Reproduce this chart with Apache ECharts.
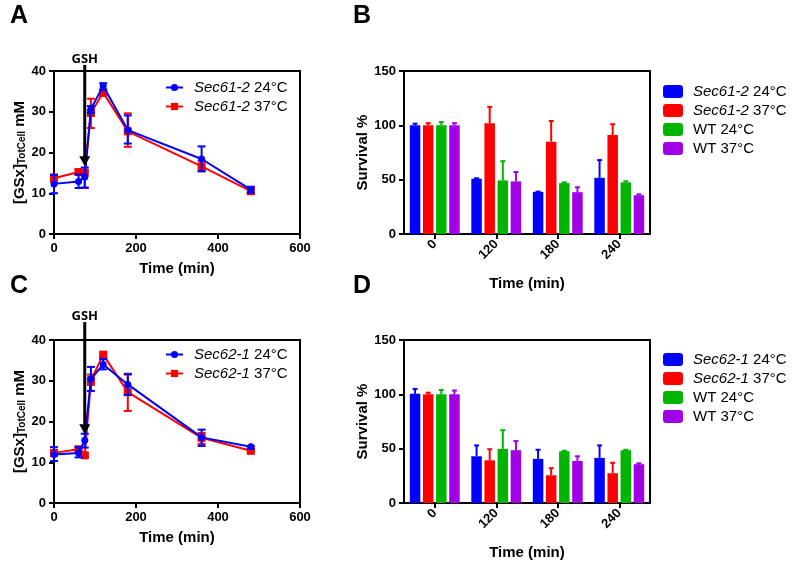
<!DOCTYPE html>
<html><head><meta charset="utf-8">
<script src="https://cdn.jsdelivr.net/npm/echarts@6/dist/echarts.min.js"></script>
<style>html,body{margin:0;padding:0;background:#fff}#c{width:800px;height:568px}</style>
</head><body><div id="c"></div>
<script>
// ---------- DATA ----------
const lineTimes = [0, 60, 75, 90, 120, 180, 360, 480];
// Panel A (Sec61-2)
const aName24 = 'Sec61-2 24°C', aName37 = 'Sec61-2 37°C';
const a24 = [12.3, 12.9, 14.0, 30.7, 36.3, 25.5, 18.4, 10.9];
const a24Low = [10.0, 11.3, 11.4, 29.7, 35.3, 22.2, 15.4, 10.1];
const a24High = [14.5, 14.6, 16.3, 31.4, 37.0, 29.1, 21.5, 11.6];
const a37 = [13.7, 15.2, 15.0, 29.7, 34.7, 25.2, 16.6, 10.5];
const a37Low = [12.8, 14.6, 11.3, 26.0, 33.9, 21.4, 15.4, 10.0];
const a37High = [14.6, 15.8, 15.5, 33.2, 35.5, 29.6, 18.0, 11.2];
// Panel C (Sec62-1)
const cName24 = 'Sec62-1 24°C', cName37 = 'Sec62-1 37°C';
const c24 = [11.9, 12.3, 15.4, 30.4, 34.0, 29.1, 16.1, 13.8];
const c24Low = [10.3, 11.2, 13.6, 27.5, 32.8, 26.5, 14.0, 13.3];
const c24High = [13.7, 13.7, 17.0, 33.4, 35.3, 31.7, 18.0, 14.0];
const c37 = [12.3, 13.2, 11.7, 30.1, 36.4, 27.2, 16.0, 12.8];
const c37Low = [11.5, 12.8, 11.3, 29.0, 35.8, 22.6, 14.5, 12.5];
const c37High = [13.0, 13.6, 12.0, 31.5, 37.0, 31.5, 17.2, 13.1];
// GSH annotation: time, arrow tip value, arrow top value
const gshTime = 75;
const gshA = [16.6, 41.5];
const gshC = [16.9, 44.4];
// Bar panels
const barCats = ['0', '120', '180', '240'];
const bNames = ['Sec61-2 24°C', 'Sec61-2 37°C', 'WT 24°C', 'WT 37°C'];
const bBlue = [100, 50.8, 38.8, 51.7], bBlueErr = [101.5, 51.3, 39.0, 68];
const bRed = [100, 102, 85, 91], bRedErr = [102, 117, 104, 101];
const bGreen = [100, 49.3, 46.8, 47.5], bGreenErr = [103, 67, 47.5, 48.5];
const bPurple = [100, 48.4, 38.5, 35.7], bPurpleErr = [102, 57, 43, 36.5];
const dNames = ['Sec62-1 24°C', 'Sec62-1 37°C', 'WT 24°C', 'WT 37°C'];
const dBlue = [100.5, 43, 40.6, 41.5], dBlueErr = [105, 53, 49, 53];
const dRed = [100, 39.3, 25.5, 27.4], dRedErr = [101.5, 49.5, 32, 37];
const dGreen = [100, 49.8, 47.6, 48.6], dGreenErr = [104, 67, 48, 49];
const dPurple = [100, 48.6, 38.7, 35.7], dPurpleErr = [103.5, 57, 43, 36.5];

// ---------- STYLE ----------
const FONT = '"Liberation Sans", Arial, sans-serif';
const BLUE = '#0000ff', RED = '#ff0000', GREEN = '#00b400', PURPLE = '#a000e6';
const BAR_W = 10.5, BAR_GAP = 0.25;

function lineErr(color) {
  return function (params, api) {
    const x = api.value(0);
    const p1 = api.coord([x, api.value(1)]), p2 = api.coord([x, api.value(2)]);
    const hw = 4, st = { stroke: color, lineWidth: 2 };
    return { type: 'group', children: [
      { type: 'line', shape: { x1: p1[0], y1: p1[1], x2: p2[0], y2: p2[1] }, style: st },
      { type: 'line', shape: { x1: p1[0] - hw, y1: p1[1], x2: p1[0] + hw, y2: p1[1] }, style: st },
      { type: 'line', shape: { x1: p2[0] - hw, y1: p2[1], x2: p2[0] + hw, y2: p2[1] }, style: st }
    ]};
  };
}
function barErr(color, idx) {
  return function (params, api) {
    const c = api.value(0);
    const base = api.coord([c, api.value(1)]), top = api.coord([c, api.value(2)]);
    const g = BAR_W * BAR_GAP, total = 4 * BAR_W + 3 * g;
    const cx = base[0] - total / 2 + BAR_W / 2 + idx * (BAR_W + g);
    const st = { stroke: color, lineWidth: 2 };
    return { type: 'group', children: [
      { type: 'line', shape: { x1: cx, y1: base[1], x2: cx, y2: top[1] }, style: st },
      { type: 'line', shape: { x1: cx - 2.5, y1: top[1], x2: cx + 2.5, y2: top[1] }, style: st }
    ]};
  };
}
function arrowItem(params, api) {
  const tip = api.coord([api.value(0), api.value(1)]);
  const top = api.coord([api.value(0), api.value(2)]);
  return { type: 'group', children: [
    { type: 'line', shape: { x1: top[0], y1: top[1], x2: tip[0], y2: tip[1] - 8 }, style: { stroke: '#000', lineWidth: 3 } },
    { type: 'polygon', shape: { points: [[tip[0] - 5.5, tip[1] - 10], [tip[0] + 5.5, tip[1] - 10], [tip[0], tip[1]]] }, style: { fill: '#000' } },
    { type: 'text', style: { text: 'GSH', x: top[0], y: top[1] + 1, align: 'center', verticalAlign: 'bottom', font: 'bold 13px "Open Sans", sans-serif', fill: '#000' } }
  ]};
}

const axisLine = { show: true, lineStyle: { color: '#000', width: 2 } };
const axisTick = { show: true, length: 5, lineStyle: { color: '#000', width: 2 } };
const axisLabel = { color: '#000', fontWeight: 'bold', fontSize: 13, fontFamily: FONT, margin: 8 };
const nameStyle = { color: '#000', fontWeight: 'bold', fontSize: 15, fontFamily: FONT };
const gsxName = {
  color: '#000', fontWeight: 'bold', fontSize: 15, fontFamily: FONT,
  rich: {
    m: { fontWeight: 'bold', fontSize: 15, fontFamily: FONT, color: '#000' },
    s: { fontWeight: 'bold', fontSize: 10, fontFamily: FONT, color: '#000', lineHeight: 6, verticalAlign: 'bottom' }
  }
};

const grids = [
  { left: 54, top: 71, width: 246, height: 163 },
  { left: 404, top: 71, width: 246, height: 163 },
  { left: 54, top: 340, width: 246, height: 163 },
  { left: 404, top: 340, width: 246, height: 163 }
].map(g => Object.assign({ show: true, borderColor: '#000', borderWidth: 2, backgroundColor: 'transparent', containLabel: false, outerBoundsMode: 'none' }, g));

function valX(gi) {
  return { gridIndex: gi, type: 'value', min: 0, max: 600, interval: 200, axisLine, axisTick, axisLabel,
    splitLine: { show: false }, name: 'Time (min)', nameLocation: 'middle', nameGap: 27, nameTextStyle: nameStyle };
}
function valY(gi) {
  return { gridIndex: gi, type: 'value', min: 0, max: 40, interval: 10, axisLine, axisTick, axisLabel,
    splitLine: { show: false }, name: '{m|[GSx]}{s|TotCell}{m| mM}', nameLocation: 'middle', nameGap: 24, nameTextStyle: gsxName };
}
function catX(gi) {
  return { gridIndex: gi, type: 'category', data: barCats, axisLine, axisTick: Object.assign({ alignWithLabel: true }, axisTick),
    axisLabel: Object.assign({}, axisLabel, { rotate: 45, margin: 8 }),
    name: 'Time (min)', nameLocation: 'middle', nameGap: 42, nameTextStyle: nameStyle };
}
function barY(gi) {
  return { gridIndex: gi, type: 'value', min: 0, max: 150, interval: 50, axisLine, axisTick, axisLabel,
    splitLine: { show: false }, name: 'Survival %', nameLocation: 'middle', nameGap: 32, nameTextStyle: nameStyle };
}

function fmt(name) {
  const m = name.match(/^(Sec6\S+)(.*)$/);
  return m ? '{sp|}{i|' + m[1] + '}' + m[2] : '{sp|}' + name;
}
function legend(names, left, top, isLine) {
  return {
    data: names, left, top, orient: 'vertical', itemGap: 4, padding: 0,
    itemWidth: isLine ? 17 : 20, itemHeight: isLine ? 9 : 13,
    icon: isLine ? undefined : 'roundRect',
    formatter: fmt, selectedMode: false,
    textStyle: { color: '#000', fontSize: 15, fontFamily: FONT,
      rich: { i: { fontStyle: 'italic', fontSize: 15, fontFamily: FONT, color: '#000' }, sp: { width: isLine ? 6 : 5 } } }
  };
}

function lineSeries(name, data, color, symbol, size, gi) {
  return { type: 'line', name, xAxisIndex: gi, yAxisIndex: gi, data: lineTimes.map((t, i) => [t, data[i]]),
    symbol, symbolSize: size, color, lineStyle: { color, width: 2 }, itemStyle: { color }, z: symbol === 'circle' ? 4 : 3 };
}
function errSeries(lo, hi, color, gi, z) {
  return { type: 'custom', xAxisIndex: gi, yAxisIndex: gi, renderItem: lineErr(color), clip: false,
    data: lineTimes.map((t, i) => [t, lo[i], hi[i]]), encode: { x: 0, y: [1, 2] }, z, silent: true };
}
function barSeries(name, data, color, gi) {
  return { type: 'bar', name, xAxisIndex: gi, yAxisIndex: gi, data, barWidth: BAR_W, barGap: (BAR_GAP * 100) + '%',
    itemStyle: { color }, color, z: 2 };
}
function barErrSeries(vals, errs, color, idx, gi) {
  return { type: 'custom', xAxisIndex: gi, yAxisIndex: gi, renderItem: barErr(color, idx), clip: false,
    data: vals.map((v, i) => [i, v, errs[i]]), encode: { x: 0, y: [1, 2] }, z: 3, silent: true };
}
function arrowSeries(vals, gi) {
  return { type: 'custom', xAxisIndex: gi, yAxisIndex: gi, renderItem: arrowItem, clip: false,
    data: [[gshTime, vals[0], vals[1]]], encode: { x: 0, y: [1, 2] }, z: 10, silent: true };
}

const letter = (t, left, top) => ({ text: t, left, top, padding: 0, textStyle: { fontSize: 25, fontWeight: 'bold', fontFamily: FONT, color: '#000' } });

const option = {
  animation: false,
  backgroundColor: '#fff',
  title: [letter('A', 10, 4), letter('B', 353, 4), letter('C', 10, 274), letter('D', 353, 274)],
  grid: grids,
  xAxis: [valX(0), catX(1), valX(2), catX(3)],
  yAxis: [valY(0), barY(1), valY(2), barY(3)],
  legend: [
    legend([aName24, aName37], 165, 80, true),
    legend(bNames, 663, 84, false),
    legend([cName24, cName37], 165, 347, true),
    legend(dNames, 663, 352, false)
  ],
  series: [
    errSeries(a37Low, a37High, RED, 0, 3),
    lineSeries(aName37, a37, RED, 'rect', 8, 0),
    errSeries(a24Low, a24High, BLUE, 0, 4),
    lineSeries(aName24, a24, BLUE, 'circle', 7, 0),
    arrowSeries(gshA, 0),

    barSeries(bNames[0], bBlue, BLUE, 1),
    barSeries(bNames[1], bRed, RED, 1),
    barSeries(bNames[2], bGreen, GREEN, 1),
    barSeries(bNames[3], bPurple, PURPLE, 1),
    barErrSeries(bBlue, bBlueErr, BLUE, 0, 1),
    barErrSeries(bRed, bRedErr, RED, 1, 1),
    barErrSeries(bGreen, bGreenErr, GREEN, 2, 1),
    barErrSeries(bPurple, bPurpleErr, PURPLE, 3, 1),

    errSeries(c37Low, c37High, RED, 2, 3),
    lineSeries(cName37, c37, RED, 'rect', 8, 2),
    errSeries(c24Low, c24High, BLUE, 2, 4),
    lineSeries(cName24, c24, BLUE, 'circle', 7, 2),
    arrowSeries(gshC, 2),

    barSeries(dNames[0], dBlue, BLUE, 3),
    barSeries(dNames[1], dRed, RED, 3),
    barSeries(dNames[2], dGreen, GREEN, 3),
    barSeries(dNames[3], dPurple, PURPLE, 3),
    barErrSeries(dBlue, dBlueErr, BLUE, 0, 3),
    barErrSeries(dRed, dRedErr, RED, 1, 3),
    barErrSeries(dGreen, dGreenErr, GREEN, 2, 3),
    barErrSeries(dPurple, dPurpleErr, PURPLE, 3, 3)
  ]
};
const chart = echarts.init(document.getElementById('c'), null, { renderer: 'canvas' });
chart.setOption(option);
</script></body></html>
